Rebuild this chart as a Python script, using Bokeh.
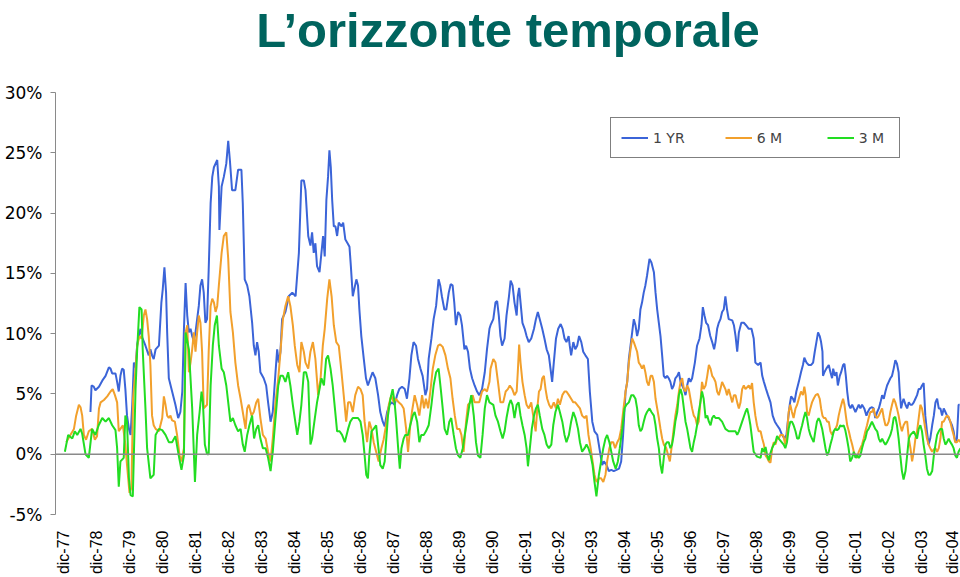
from math import pi
from bokeh.plotting import figure
from bokeh.models import (Range1d, FixedTicker, PrintfTickFormatter, Span,
                          Legend, LegendItem, Title)
from bokeh.embed import file_html
from bokeh.resources import INLINE

title_text = "L\u2019orizzonte temporale"
series_names = ["1 YR", "6 M", "3 M"]
tick_labels = ["dic-77", "dic-78", "dic-79", "dic-80", "dic-81", "dic-82", "dic-83",
               "dic-84", "dic-85", "dic-86", "dic-87", "dic-88", "dic-89", "dic-90",
               "dic-91", "dic-92", "dic-93", "dic-94", "dic-95", "dic-96", "dic-97",
               "dic-98", "dic-99", "dic-00", "dic-01", "dic-02", "dic-03", "dic-04"]
tick_months = [0, 12, 24, 36, 48, 60, 72, 84, 96, 108, 120, 132, 144, 156,
               168, 180, 192, 204, 216, 228, 240, 252, 264, 276, 288, 300, 312, 324]
y_ticks = [-5, 0, 5, 10, 15, 20, 25, 30]

# (months since dic-77, return %)
yr1_points = [
    (9.8, 3.5), (10.2, 5.7), (11.0, 5.6), (11.6, 5.3), (12.9, 5.6), (14.1, 6.1), (15.3, 6.5), (16.5, 7.2),
    (17.1, 7.1), (17.7, 6.7), (18.9, 6.7), (19.5, 6.0), (20.1, 5.2), (20.7, 6.5), (21.3, 7.1), (21.9, 7.0),
    (22.5, 5.4), (23.1, 3.2), (23.8, 2.1), (24.4, 1.6), (25.0, 4.1), (25.6, 7.6), (26.2, 7.2), (26.8, 9.1),
    (27.4, 9.8), (28.0, 10.4), (28.6, 9.7), (29.8, 9.0), (31.0, 8.2), (31.6, 8.7), (32.2, 8.2), (32.8, 7.9),
    (33.5, 8.7), (34.7, 9.0), (35.6, 12.6), (36.1, 13.7), (36.7, 15.5), (37.3, 13.4), (37.7, 10.1), (38.3, 6.3),
    (39.5, 5.2), (40.7, 4.1), (41.7, 3.0), (42.5, 3.5), (43.2, 5.2), (43.8, 10.4), (44.4, 14.2), (45.0, 11.5),
    (45.6, 10.1), (46.2, 10.4), (46.8, 9.8), (47.4, 9.4),
    (48.0, 10.1), (48.6, 11.2), (49.2, 12.3), (49.8, 14.0), (50.4, 14.5), (51.0, 13.4), (51.6, 10.9), (52.2, 11.2),
    (52.8, 15.3), (53.5, 20.8), (54.1, 23.0), (54.7, 23.8), (55.9, 24.4), (56.5, 22.2), (56.7, 18.6), (57.5, 22.2),
    (58.3, 23.0), (59.2, 24.1), (59.9, 26.0), (60.5, 24.4), (61.3, 21.9), (62.5, 21.9), (63.5, 23.6), (64.7, 23.6),
    (65.2, 20.8), (65.9, 14.5), (66.8, 14.0), (67.6, 13.1), (68.6, 10.9), (69.2, 9.0), (69.8, 8.2), (70.4, 9.3),
    (71.0, 8.5), (71.6, 6.8), (72.8, 6.3), (73.7, 5.7), (74.4, 4.3), (75.3, 2.7), (76.1, 3.5), (77.1, 6.8),
    (77.7, 8.7), (78.3, 7.6), (78.9, 8.5), (79.5, 11.2), (80.7, 11.8), (81.9, 13.1), (83.2, 13.4), (84.4, 13.1),
    (85.6, 16.7), (86.5, 22.7), (87.4, 22.7), (88.0, 21.9), (89.0, 18.1), (89.8, 17.3), (90.4, 18.4), (91.0, 16.7),
    (91.6, 17.5), (92.2, 15.6), (93.1, 15.1), (93.8, 16.7), (94.4, 18.1), (95.0, 16.4), (95.6, 21.1), (96.2, 23.0),
    (96.7, 25.2), (97.2, 23.8), (97.7, 21.1), (98.3, 18.9), (98.9, 18.9), (99.5, 18.1), (100.1, 19.2), (101.1, 18.9),
    (101.7, 19.2), (102.5, 17.8), (103.3, 17.5), (104.0, 17.2), (104.5, 15.6), (105.2, 13.1),
    (106.5, 14.5), (107.1, 14.0), (107.6, 12.0), (108.3, 9.8), (109.2, 7.9), (110.0, 6.3), (110.7, 5.7), (111.6, 6.3),
    (112.4, 6.8), (113.4, 6.3), (114.4, 4.9), (115.2, 3.5), (116.1, 2.7), (116.8, 2.3), (117.7, 3.5), (118.5, 4.1),
    (119.5, 4.3), (120.4, 4.1), (121.3, 4.9), (122.1, 5.4), (123.1, 5.6), (124.1, 5.4), (124.9, 4.6), (125.8, 6.3),
    (126.5, 8.2), (127.3, 9.3), (128.2, 9.0), (128.9, 7.9), (129.8, 7.1), (130.6, 6.5), (131.6, 4.9), (132.2, 5.4),
    (132.8, 7.9), (133.8, 9.6), (134.6, 11.2), (135.5, 12.3), (136.4, 14.5), (137.0, 14.0), (137.6, 13.1), (138.5, 12.0),
    (139.2, 12.0), (140.1, 13.4), (140.8, 14.1), (141.5, 14.0), (142.1, 12.6), (142.7, 10.7), (143.5, 11.8), (144.3, 11.5),
    (144.9, 10.7), (145.8, 8.7), (146.4, 9.0), (147.1, 8.5), (147.8, 7.1), (148.6, 6.3), (149.5, 5.7), (150.4, 5.2),
    (151.2, 4.9), (152.2, 5.4), (153.2, 6.8), (154.0, 8.7), (154.9, 10.4),
    (155.3, 10.7), (156.3, 11.2), (157.1, 12.6), (157.7, 12.7), (158.3, 11.5), (158.9, 9.8), (159.5, 9.0), (160.4, 9.6),
    (161.1, 11.5), (162.0, 13.1), (162.6, 14.4), (163.3, 14.0), (164.0, 12.6), (164.8, 11.5), (165.2, 13.1), (165.7, 13.8),
    (166.2, 12.6), (166.9, 10.9), (167.7, 10.4), (168.4, 9.8), (169.2, 9.3), (170.1, 9.6), (171.1, 10.4), (171.8, 11.2),
    (172.5, 11.8), (173.2, 11.2), (174.1, 10.4), (174.9, 9.6), (175.7, 8.7), (176.5, 8.2), (177.1, 7.1), (177.7, 6.0),
    (178.3, 7.6), (179.1, 9.6), (179.9, 10.4), (180.8, 10.8), (181.5, 10.4), (182.2, 9.6), (182.9, 9.3), (183.7, 9.8),
    (184.1, 9.0), (184.6, 8.2), (185.4, 9.3), (186.1, 8.7), (186.8, 9.0), (187.5, 9.8), (188.3, 9.3), (189.0, 8.5),
    (189.8, 8.2), (190.7, 7.9), (191.4, 5.2), (192.3, 2.7), (193.1, 1.9), (194.1, 1.6), (195.1, 0.2), (195.9, -0.9),
    (196.5, -0.6), (197.5, -0.9), (198.3, -1.4), (199.2, -1.3), (200.1, -1.4), (201.1, -1.3), (202.0, -1.2), (202.8, -0.6),
    (203.5, 1.6), (204.4, 5.2), (205.0, 6.0), (205.6, 7.9), (206.2, 9.0), (206.8, 10.1), (207.4, 11.2),
    (208.0, 10.7), (208.6, 9.8), (209.2, 10.4), (209.8, 12.0), (210.4, 12.6), (211.0, 13.4), (211.6, 14.0), (212.2, 14.8),
    (213.1, 16.2), (213.8, 15.9), (214.7, 15.1), (215.3, 13.4), (215.9, 12.0), (216.5, 10.9), (217.1, 9.8), (217.7, 8.2),
    (218.3, 6.5), (218.9, 6.3), (219.5, 6.5), (220.1, 6.3), (220.7, 6.0), (221.3, 5.4), (221.9, 5.7), (222.5, 6.3),
    (223.2, 6.5), (223.8, 6.8), (224.4, 6.0), (225.0, 5.7), (225.6, 5.4), (226.2, 4.9), (226.8, 5.7), (227.4, 6.3),
    (228.0, 6.0), (228.6, 6.3), (229.6, 7.6), (230.4, 9.0), (231.3, 9.6), (232.0, 10.7), (232.5, 12.2), (233.1, 11.5),
    (233.7, 10.9), (234.4, 10.7), (235.2, 9.8), (235.9, 9.3), (236.6, 8.7), (237.1, 9.3), (237.7, 10.4), (238.3, 10.9),
    (238.9, 11.2), (239.5, 11.8), (240.1, 12.0), (240.7, 13.1), (241.3, 12.0), (241.9, 11.2), (243.2, 11.1), (243.8, 10.7),
    (244.4, 9.8), (245.0, 8.5), (245.6, 10.1), (246.5, 10.9), (247.4, 10.9), (248.2, 10.7), (249.2, 10.4), (250.2, 10.4),
    (251.0, 9.6), (251.6, 7.6), (252.6, 7.4), (253.5, 7.6), (254.1, 6.5), (254.7, 6.0), (255.5, 5.4), (256.2, 4.9),
    (257.1, 4.3), (257.9, 3.2), (258.7, 2.7), (259.5, 2.4), (260.4, 2.1),
    (261.3, 1.6), (262.2, 1.3), (262.9, 1.6), (263.4, 2.7), (264.1, 4.1), (264.6, 4.8), (265.3, 4.6), (265.8, 4.3),
    (266.5, 5.2), (267.4, 6.0), (268.2, 6.8), (268.9, 7.4), (269.4, 8.0), (270.2, 7.6), (271.0, 7.4), (271.9, 7.4),
    (272.6, 7.6), (273.2, 8.5), (273.8, 9.3), (274.4, 10.1), (275.0, 9.8), (275.5, 9.3), (276.0, 8.5), (276.2, 6.5),
    (276.7, 6.8), (277.4, 7.1), (278.3, 7.4), (278.9, 6.8), (279.5, 6.3), (279.9, 7.1), (280.5, 6.5), (281.1, 6.8),
    (281.6, 5.7), (282.3, 6.5), (282.8, 6.8), (283.5, 7.4), (284.0, 7.5), (284.5, 6.5), (285.0, 5.2), (285.6, 4.1),
    (286.2, 3.8), (286.8, 4.1), (287.4, 3.8), (288.0, 3.5), (288.6, 3.8), (289.2, 4.1), (289.8, 3.8), (290.4, 4.1),
    (291.2, 3.8), (292.0, 3.2), (292.5, 3.5), (293.2, 3.8), (294.0, 3.9), (294.6, 3.8), (295.2, 3.0), (295.9, 3.5),
    (296.5, 3.8), (297.1, 4.3), (297.7, 4.9), (298.3, 4.6), (298.9, 5.2), (299.5, 5.7), (300.1, 6.0), (300.7, 6.3),
    (301.3, 6.5), (301.9, 7.1), (302.5, 7.8), (303.1, 7.5), (303.7, 6.8), (304.1, 5.2), (304.6, 3.8), (305.1, 4.3),
    (305.5, 4.6), (306.2, 4.1), (306.8, 3.8), (307.4, 4.3), (308.0, 4.1), (308.6, 4.1), (309.2, 4.3), (309.8, 4.6),
    (310.4, 4.9), (311.0, 5.4), (311.6, 5.4), (312.2, 5.7), (312.8, 5.9), (313.1, 4.6), (313.4, 3.2), (314.0, 1.9),
    (314.6, 0.8), (315.2, 1.3), (315.9, 2.4), (316.5, 3.2), (317.1, 4.3), (317.7, 4.6), (318.3, 3.8), (318.9, 3.8),
    (319.5, 3.2), (320.1, 3.8), (320.7, 3.5), (321.3, 3.2), (321.9, 3.0), (322.5, 2.7), (323.1, 2.4), (323.7, 1.9),
    (324.3, 1.0), (324.9, 1.3), (325.5, 4.1), (325.9, 4.1),
]

m6_points = [
    (1.0, 1.0), (2.5, 1.6), (3.8, 2.1), (4.6, 3.2), (5.6, 4.1), (6.2, 3.9), (6.8, 3.2), (7.4, 1.6),
    (8.2, 1.2), (9.2, 1.9), (10.4, 2.1), (11.4, 1.2), (12.2, 1.5), (12.9, 3.8), (13.5, 4.3), (14.7, 4.5),
    (15.9, 4.8), (17.1, 5.2), (17.9, 5.4), (18.7, 4.9), (19.5, 4.3), (20.1, 1.9), (20.7, 2.1), (21.6, 2.4),
    (22.5, 0.8), (23.1, -0.9), (24.0, -3.2), (24.7, -2.8), (25.3, 4.6), (26.2, 7.1), (26.8, 9.0), (27.6, 9.8),
    (28.4, 9.6), (29.2, 11.5), (29.8, 12.0), (30.4, 11.2), (31.0, 9.8), (31.6, 7.4), (32.2, 3.2), (32.8, 2.4),
    (33.5, 2.1), (34.7, 1.9), (35.9, 3.0), (36.5, 4.8), (37.1, 4.1), (37.7, 3.2), (38.3, 3.0), (38.9, 3.2),
    (39.5, 2.8), (40.5, 2.7), (41.3, 1.6), (42.2, -0.1), (42.9, -0.6), (43.8, 0.5), (44.4, 10.1), (45.0, 10.7),
    (45.6, 6.8), (46.2, 7.6), (46.8, 8.7), (47.4, 10.1),
    (48.0, 8.5), (48.6, 10.1), (49.2, 11.5), (49.8, 10.9), (50.4, 8.5), (51.0, 3.8), (52.2, 4.1), (52.8, 8.5),
    (53.5, 12.3), (54.1, 12.9), (54.7, 12.6), (55.3, 11.8), (55.9, 12.3), (56.5, 14.0), (57.5, 16.7), (58.3, 18.1),
    (59.2, 18.4), (59.9, 16.2), (60.7, 11.8), (61.6, 10.1), (62.5, 7.6), (63.5, 5.7), (64.4, 4.6), (65.2, 3.5),
    (66.2, 2.1), (66.8, 3.8), (67.4, 4.1), (68.4, 3.2), (69.2, 3.5), (70.1, 4.3), (70.8, 4.6), (71.6, 3.0),
    (72.5, 1.6), (73.5, 1.3), (74.4, 0.2), (75.3, -0.6), (76.1, 1.3), (77.1, 4.3), (78.1, 6.3), (78.9, 8.5),
    (79.8, 11.2), (80.7, 12.3), (81.7, 13.1), (82.5, 12.3), (83.4, 10.7), (84.1, 9.0), (85.0, 7.4), (85.8, 6.8),
    (86.5, 9.3), (87.4, 8.5), (88.0, 7.6), (89.0, 7.1), (89.8, 8.5), (90.7, 9.3), (91.6, 7.9), (92.6, 4.9),
    (93.5, 6.3), (94.3, 9.0), (95.0, 10.4), (95.9, 12.9), (96.7, 14.5), (97.5, 13.1), (98.3, 10.7), (99.2, 9.3),
    (100.1, 9.0), (101.1, 6.8), (101.9, 4.9), (102.8, 2.7),
    (103.5, 4.3), (104.3, 4.3), (105.2, 3.5), (106.1, 4.9), (107.1, 5.6), (108.0, 5.4), (108.8, 4.9), (109.5, 2.7),
    (110.4, 1.0), (111.2, 2.7), (112.0, 2.1), (112.8, 1.0), (113.7, 0.2), (114.6, -0.6), (115.6, 0.5), (116.4, 1.2),
    (117.3, 2.4), (118.3, 4.1), (119.2, 4.9), (120.1, 4.3), (120.9, 4.6), (121.9, 4.3), (122.9, 4.1), (123.7, 3.8),
    (124.6, 2.1), (125.3, 0.2), (126.1, 2.4), (126.7, 3.5), (127.7, 4.9), (128.6, 4.1), (129.4, 3.2), (130.4, 4.9),
    (131.1, 3.8), (131.8, 4.6), (132.6, 3.8), (133.4, 5.2), (134.3, 7.1), (135.2, 8.2), (136.2, 9.0), (137.0, 9.1),
    (137.9, 8.9), (138.9, 8.2), (139.8, 7.1), (140.7, 6.3), (141.5, 4.6), (142.3, 3.2), (143.1, 2.1), (144.0, 2.1),
    (144.7, 1.6), (145.5, 0.2), (146.4, 2.7), (147.1, 4.1), (148.0, 4.3), (148.8, 4.9), (149.5, 4.3), (150.4, 4.3),
    (151.2, 4.3), (152.2, 5.2), (153.2, 5.4), (154.0, 5.2), (154.9, 6.0),
    (155.3, 7.1), (156.3, 7.9), (157.1, 7.6), (158.0, 6.0), (158.9, 4.3), (159.9, 4.3), (160.8, 5.2), (161.6, 5.4),
    (162.3, 5.7), (163.2, 5.4), (164.0, 4.9), (164.8, 5.2), (165.2, 6.8), (165.7, 9.1), (166.2, 7.6), (166.9, 6.0),
    (167.7, 4.9), (168.4, 4.1), (169.2, 3.8), (170.1, 4.3), (170.8, 3.2), (171.7, 1.9), (172.3, 3.8), (172.9, 5.2),
    (173.5, 5.4), (174.1, 6.3), (174.7, 6.5), (175.3, 5.4), (175.9, 4.6), (176.6, 4.1), (177.4, 3.8), (178.3, 4.3),
    (179.1, 3.8), (179.8, 4.6), (180.5, 4.1), (181.4, 4.9), (182.2, 5.2), (182.9, 5.2), (183.8, 4.9), (184.6, 4.6),
    (185.4, 4.3), (186.1, 4.3), (186.8, 4.1), (187.8, 3.8), (188.6, 3.2), (189.5, 3.0), (190.2, 3.2), (190.9, 1.6),
    (191.7, 0.5), (192.4, -0.6), (193.1, -1.7), (193.8, -2.3), (194.7, -2.0), (195.5, -2.0), (196.3, -2.3), (197.1, -1.7),
    (197.7, -0.6), (198.5, 0.5), (199.2, 1.0), (199.9, 1.0), (200.6, 0.5), (201.4, 1.0), (202.1, 1.3), (202.8, 2.1),
    (203.5, 3.5), (204.4, 5.2), (205.0, 6.0), (205.6, 7.6), (206.2, 8.7), (206.8, 9.6), (207.4, 9.3),
    (208.6, 8.5), (209.2, 7.6), (209.8, 7.4), (210.4, 7.1), (211.0, 7.4), (211.6, 6.8), (212.2, 6.0), (212.8, 5.7),
    (213.5, 6.5), (214.1, 6.5), (214.7, 6.0), (215.3, 4.6), (215.9, 3.8), (216.5, 3.0), (217.1, 2.1), (217.7, 1.3),
    (218.3, 0.8), (219.2, 0.5), (219.9, -0.1), (220.5, -0.6), (221.1, 0.5), (221.9, 2.1), (222.5, 3.2), (223.2, 4.1),
    (223.8, 5.2), (224.4, 6.0), (225.0, 6.3), (225.6, 5.4), (226.2, 5.2), (226.8, 5.7), (227.4, 5.4), (228.0, 4.6),
    (228.6, 3.8), (229.2, 3.2), (229.8, 3.0), (230.4, 2.4), (231.0, 2.7), (231.6, 4.3), (232.2, 6.0), (232.8, 5.4),
    (233.5, 5.7), (234.1, 6.5), (234.7, 7.4), (235.3, 7.1), (235.9, 6.5), (236.5, 6.3), (237.1, 6.0), (237.7, 5.2),
    (238.3, 4.9), (238.9, 5.4), (239.5, 6.0), (240.1, 5.7), (240.7, 5.4), (241.3, 4.9), (241.9, 5.4), (242.5, 4.9),
    (243.2, 4.3), (243.8, 4.9), (244.4, 4.9), (245.0, 4.3), (245.6, 3.8), (246.2, 4.3), (246.8, 5.4), (247.4, 5.7),
    (248.0, 5.4), (249.2, 5.7), (249.8, 5.4), (250.4, 5.9), (251.0, 4.3), (251.6, 3.2), (252.2, 2.4), (252.8, 1.9),
    (253.5, 1.9), (254.1, 1.3), (254.7, 0.8), (255.3, -0.1), (255.9, -0.3), (256.5, -0.6), (257.1, -0.7), (257.7, 0.5),
    (258.3, 1.0), (258.9, 0.8), (259.5, 1.3), (260.1, 1.3),
    (260.7, 1.6), (261.7, 1.6), (262.5, 0.8), (263.1, 1.6), (263.7, 3.5), (264.3, 4.1), (264.9, 3.5), (265.5, 3.0),
    (266.2, 3.8), (266.8, 4.1), (267.4, 4.6), (268.2, 5.2), (268.9, 4.9), (269.4, 5.6), (269.9, 4.9), (270.4, 3.5),
    (271.0, 3.2), (271.6, 3.8), (272.2, 4.3), (272.8, 4.6), (273.5, 4.9), (274.3, 5.0), (275.0, 4.6), (275.5, 3.8),
    (276.0, 3.2), (276.5, 3.0), (277.1, 3.0), (277.7, 2.7), (278.3, 2.7), (278.9, 1.9), (279.5, 1.6), (280.1, 1.9),
    (280.7, 2.1), (281.3, 2.4), (281.9, 3.2), (282.5, 3.8), (283.1, 4.3), (283.5, 4.6), (284.0, 4.1), (284.5, 3.2),
    (285.0, 2.4), (285.6, 1.9), (286.2, 1.3), (286.8, 0.8), (287.4, 0.2), (288.0, -0.1), (288.6, -0.3), (289.2, 0.2),
    (289.8, 0.5), (290.4, 0.8), (291.0, 1.3), (291.6, 1.9), (292.2, 2.4), (292.8, 3.0), (293.4, 3.5), (294.0, 3.5),
    (294.6, 3.8), (295.2, 3.2), (295.9, 3.0), (296.5, 3.2), (297.1, 3.5), (297.7, 3.8), (298.3, 3.0), (298.9, 2.4),
    (299.5, 2.4), (300.1, 2.7), (300.7, 3.5), (301.3, 4.1), (301.9, 4.6), (302.5, 4.3), (303.1, 3.8), (303.7, 3.2),
    (304.3, 2.4), (304.9, 1.9), (305.5, 2.4), (306.2, 2.7), (306.8, 2.7), (307.4, 1.3), (308.0, 0.5), (308.6, -0.6),
    (309.2, 0.2), (309.8, 1.3), (310.4, 1.9), (311.0, 3.0), (311.6, 4.1), (312.2, 3.8), (312.8, 3.0), (313.4, 2.1),
    (314.0, 1.3), (314.6, 0.8), (315.2, 0.5), (315.9, 0.2), (316.5, 0.4), (317.1, 0.5), (317.7, 0.2), (318.3, 0.5),
    (318.9, 1.3), (319.5, 2.7), (320.1, 2.7), (320.7, 3.0), (321.3, 3.2), (321.9, 3.1), (322.5, 2.7), (323.1, 2.1),
    (323.7, 1.6), (324.3, 1.0), (324.9, 1.0), (325.5, 1.2), (326.2, 1.0),
]

m3_points = [
    (0.5, 0.2), (1.7, 1.6), (3.2, 1.3), (4.1, 1.9), (5.0, 1.6), (6.2, 2.1), (6.8, 1.7), (8.0, 0.0),
    (9.2, -0.3), (10.4, 2.1), (11.6, 1.6), (12.8, 2.4), (14.1, 3.0), (15.3, 2.7), (16.5, 3.0), (17.7, 2.4),
    (18.9, 2.0), (19.5, 0.5), (20.1, -2.7), (20.7, -0.6), (21.9, -0.3), (22.5, 3.2), (23.1, 2.7), (23.8, -2.0),
    (24.4, -3.4), (25.2, -3.5), (26.2, 5.4), (26.8, 8.7), (27.6, 12.2), (28.4, 12.0), (28.8, 8.7), (29.8, 3.8),
    (30.4, 0.5), (31.6, -2.0), (32.8, -1.7), (33.5, 1.6), (34.7, 2.1), (35.9, 2.0), (37.1, 1.6), (38.3, 1.0),
    (39.5, 1.0), (40.7, 1.5), (41.9, -0.1), (42.9, -1.3), (43.8, -0.1), (44.4, 10.1), (45.6, 8.7), (46.8, 3.8),
    (47.8, -2.3),
    (48.6, 1.6), (49.5, 3.5), (50.2, 5.2), (50.7, 4.3), (51.4, 0.8), (52.2, 0.0), (52.8, 0.0), (53.5, 5.7),
    (54.3, 9.0), (55.0, 10.7), (55.8, 11.5), (56.5, 9.0), (57.5, 7.1), (58.3, 6.8), (59.2, 5.7), (59.9, 4.3),
    (60.7, 2.7), (61.6, 3.0), (62.5, 2.4), (63.5, 1.9), (64.4, 2.1), (65.2, 0.8), (65.9, 0.2), (66.8, 1.6),
    (67.6, 2.4), (68.6, 3.2), (69.3, 1.3), (70.1, 2.1), (70.8, 2.4), (71.6, 1.3), (72.5, 0.5), (73.5, 0.5),
    (74.4, -0.3), (75.3, -1.4), (76.1, 0.2), (77.1, 3.0), (78.1, 5.7), (78.9, 6.5), (79.8, 6.5), (80.7, 6.0),
    (81.7, 6.8), (82.5, 5.7), (83.4, 4.1), (84.1, 3.0), (85.0, 1.6), (85.8, 2.7), (86.5, 4.1), (87.4, 6.8),
    (88.2, 6.8), (89.0, 6.0), (89.8, 0.8), (90.4, 1.3), (91.4, 3.0), (92.2, 4.3), (93.1, 5.4), (93.8, 6.3),
    (94.7, 5.7), (95.5, 7.9), (96.2, 8.2), (97.1, 7.1), (97.9, 5.7), (98.7, 3.8), (99.5, 1.9), (100.4, 1.9),
    (101.3, 1.6), (102.3, 1.0),
    (103.5, 2.1), (104.3, 2.7), (105.2, 3.0), (106.1, 3.0), (107.1, 3.0), (108.0, 2.7), (108.8, 1.6), (109.5, -0.1),
    (110.1, -1.7), (110.7, -2.0), (111.2, -0.1), (112.0, 1.9), (112.8, 2.1), (113.7, 2.4), (114.4, 0.8), (115.2, -0.9),
    (116.1, -1.2), (116.8, -0.6), (117.3, 1.0), (118.0, 3.2), (118.9, 4.6), (119.7, 5.4), (120.4, 4.3), (120.9, 3.0),
    (121.7, 0.5), (122.3, -1.2), (122.9, 0.5), (123.7, 1.3), (124.3, 1.6), (125.3, 1.6), (126.1, 2.4), (127.0, 3.2),
    (127.7, 3.5), (128.6, 2.7), (129.4, 1.0), (130.1, 1.6), (131.0, 1.6), (131.8, 1.9), (132.8, 2.4), (133.8, 4.1),
    (134.6, 5.7), (135.5, 6.8), (136.4, 7.1), (137.2, 5.4), (137.9, 3.8), (138.6, 2.1), (139.5, 1.6), (140.3, 2.7),
    (141.0, 3.0), (141.9, 1.6), (142.7, 0.5), (143.5, -0.1), (144.3, -0.3), (145.2, 0.5), (145.9, 1.6), (146.7, 2.7),
    (147.6, 4.1), (148.3, 4.9), (149.2, 3.2), (150.0, 1.0), (150.7, -0.1), (151.6, -0.3), (152.4, 1.6), (153.2, 3.8),
    (154.0, 4.9), (154.9, 4.3),
    (156.3, 4.1), (157.1, 3.2), (158.0, 2.7), (158.9, 1.9), (159.7, 1.3), (160.4, 1.9), (161.1, 3.0), (162.0, 4.1),
    (162.6, 4.5), (163.3, 4.1), (164.0, 3.0), (164.8, 4.1), (165.5, 4.3), (166.2, 3.2), (166.9, 2.4), (167.7, 1.6),
    (168.4, 0.5), (168.9, -1.0), (169.6, 0.5), (170.3, 2.1), (171.1, 3.2), (171.8, 3.8), (172.5, 4.1), (173.2, 3.2),
    (174.1, 2.1), (174.9, 1.6), (175.7, 0.8), (176.5, 0.5), (177.4, 0.8), (178.1, 2.4), (178.9, 3.5), (179.8, 4.1),
    (180.5, 3.5), (181.4, 2.7), (182.2, 1.6), (182.9, 1.0), (183.8, 1.6), (184.6, 2.7), (185.4, 3.5), (186.2, 3.0),
    (187.1, 2.1), (187.8, 1.0), (188.6, 0.2), (189.5, 0.5), (190.2, 0.8), (190.9, 0.5), (191.7, -0.1), (192.4, -0.9),
    (193.1, -2.3), (193.8, -3.5), (194.7, -1.7), (195.5, -0.6), (196.3, 0.5), (197.1, 1.3), (197.7, 1.6), (198.5, 1.0),
    (199.2, 0.2), (199.9, -0.6), (200.8, -1.2), (201.6, -0.6), (202.3, 0.5), (203.2, 2.1), (204.0, 3.8), (204.7, 4.1),
    (205.6, 4.3), (206.5, 4.9), (207.2, 4.9),
    (208.0, 4.6), (208.6, 3.8), (209.2, 2.4), (209.8, 1.9), (210.4, 2.1), (211.0, 2.7), (211.6, 3.2), (212.2, 3.5),
    (213.1, 3.8), (213.8, 3.5), (214.7, 3.2), (215.3, 2.4), (215.9, 1.3), (216.5, 0.5), (217.1, -0.9), (217.7, -1.6),
    (218.3, -0.3), (218.9, 0.8), (219.5, 1.0), (220.1, 1.0), (220.7, 0.5), (221.3, 0.8), (221.9, 1.6), (222.5, 2.7),
    (223.2, 3.5), (223.8, 4.9), (224.4, 5.4), (225.0, 4.9), (225.6, 3.8), (226.2, 2.7), (226.8, 2.1), (227.4, 1.3),
    (228.0, 0.5), (228.6, 0.2), (229.2, 1.0), (229.8, 1.6), (230.4, 2.4), (231.0, 3.5), (231.6, 4.3), (232.2, 5.2),
    (232.8, 4.6), (233.5, 3.0), (234.1, 3.2), (234.7, 2.7), (235.3, 2.4), (235.9, 3.0), (236.5, 3.2), (237.1, 3.0),
    (238.3, 3.0), (239.5, 2.7), (240.7, 2.1), (241.9, 1.9), (243.2, 1.9), (244.4, 1.9), (245.0, 1.6), (245.6, 1.9),
    (246.8, 2.7), (248.0, 3.5), (248.6, 3.8), (249.2, 3.2), (249.8, 2.4), (250.4, 1.3), (251.0, 0.2), (252.2, -0.2),
    (253.5, -0.3), (254.1, 0.5), (254.7, 0.2), (255.3, 0.6), (255.9, -0.1), (256.5, -0.5), (257.1, 0.1), (257.7, 0.5),
    (258.3, 0.8), (258.9, 1.0), (259.5, 1.5), (260.1, 1.3),
    (261.9, 0.8), (262.5, 0.5), (263.1, 1.0), (263.7, 2.1), (264.3, 2.7), (264.9, 2.7), (265.5, 2.4), (266.2, 1.9),
    (266.8, 1.3), (267.4, 1.3), (268.0, 1.9), (268.6, 2.4), (269.2, 3.0), (269.8, 3.5), (270.4, 3.0), (271.0, 2.1),
    (271.6, 1.6), (272.2, 1.3), (272.8, 1.0), (273.4, 1.9), (274.0, 2.7), (274.6, 3.0), (275.2, 2.7), (275.9, 2.1),
    (276.5, 1.3), (277.1, 0.5), (277.7, -0.1), (278.3, 0.2), (278.9, 0.8), (279.5, 1.3), (280.1, 1.9), (280.7, 2.1),
    (281.3, 2.0), (281.9, 2.1), (282.5, 2.4), (283.1, 2.3), (283.7, 2.4), (284.3, 2.0), (284.9, 1.3), (285.5, 0.5),
    (286.1, -0.6), (286.8, -0.3), (287.4, 0.2), (288.0, -0.3), (288.6, -0.1), (289.2, -0.3), (289.8, -0.1), (290.4, 0.5),
    (291.0, 1.0), (291.6, 1.3), (292.2, 1.9), (292.8, 2.1), (293.4, 2.4), (294.0, 2.7), (294.6, 2.4), (295.2, 2.1),
    (295.9, 1.9), (296.5, 1.3), (297.1, 1.0), (297.7, 1.3), (298.3, 1.0), (298.9, 0.8), (299.5, 1.0), (300.1, 1.3),
    (300.7, 1.6), (301.3, 2.1), (301.9, 3.0), (302.5, 3.1), (303.1, 2.4), (303.7, 1.3), (304.3, -0.1), (304.9, -1.4),
    (305.5, -2.1), (306.2, -1.4), (306.8, -0.1), (307.4, 1.3), (308.0, 1.6), (309.2, 1.9), (310.4, 1.3), (311.0, 2.1),
    (311.6, 2.4), (312.2, 1.9), (312.8, 0.8), (313.4, -0.1), (314.0, -1.2), (314.6, -1.7), (315.2, -1.7), (315.9, -1.4),
    (316.5, -0.1), (317.1, 0.8), (317.7, 1.6), (318.3, 1.9), (318.9, 2.1), (319.5, 2.1), (320.1, 1.3), (320.7, 0.8),
    (321.3, 1.0), (321.9, 1.3), (322.5, 1.0), (323.1, 0.8), (323.7, 0.5), (324.3, -0.1), (324.9, -0.3), (325.5, 0.2),
    (326.2, 0.5),
]

series_points = [yr1_points, m6_points, m3_points]
series_colors = ["#3b64d8", "#f2a02c", "#22dd22"]

p = figure(width=960, height=577, output_backend="svg", toolbar_location=None,
           x_range=Range1d(-2.91, 326.2), y_range=Range1d(-5, 30),
           min_border_left=55, min_border_right=0, min_border_top=92, min_border_bottom=60)
p.background_fill_color = "white"
p.border_fill_color = "white"
p.outline_line_color = None
p.xgrid.visible = False
p.ygrid.visible = False

# spacer between frame and title (closest to the frame), then the title itself
p.add_layout(Title(text=" ", text_font_size="10px", standoff=21), "above")
p.add_layout(Title(text=title_text, text_font="Liberation Sans", text_font_style="bold",
                   text_font_size="49px", text_color="#00645e", align="center",
                   vertical_align="top", standoff=0), "above")

# zero (category axis) line
p.add_layout(Span(location=0, dimension="width", line_color="#8a8a8a", line_width=1.5))

renderers = []
for pts, color in zip(series_points, series_colors):
    xs = [a for a, b in pts]
    ys = [b for a, b in pts]
    r = p.line(xs, ys, line_color=color, line_width=2)
    renderers.append(r)

ya = p.yaxis[0]
ya.ticker = FixedTicker(ticks=y_ticks)
ya.formatter = PrintfTickFormatter(format="%d%%")
ya.axis_line_color = "#8a8a8a"
ya.major_tick_line_color = "#8a8a8a"
ya.major_tick_out = 5
ya.major_tick_in = 0
ya.minor_tick_line_color = None
ya.major_label_text_font = "DejaVu Sans"
ya.major_label_text_font_size = "17px"
ya.major_label_text_color = "black"
ya.major_label_standoff = 8

xa = p.xaxis[0]
xa.ticker = FixedTicker(ticks=tick_months)
xa.major_label_overrides = {m: lab for m, lab in zip(tick_months, tick_labels)}
xa.major_label_orientation = pi / 2
xa.axis_line_color = None
xa.major_tick_line_color = None
xa.minor_tick_line_color = None
xa.major_label_text_font = "Liberation Sans"
xa.major_label_text_font_size = "16px"
xa.major_label_text_color = "black"
xa.major_label_standoff = 10

legend = Legend(items=[LegendItem(label=n, renderers=[r]) for n, r in zip(series_names, renderers)],
                orientation="horizontal", location=(555, 356))
legend.label_text_font = "DejaVu Sans"
legend.label_text_font_size = "14px"
legend.border_line_color = "black"
legend.border_line_width = 1
legend.background_fill_color = "white"
legend.background_fill_alpha = 1
legend.glyph_width = 27
legend.glyph_height = 19
legend.label_standoff = 5
legend.label_width = 30
legend.spacing = 40
legend.padding = 10
legend.margin = 0
p.add_layout(legend)

open("out.html", "w").write(file_html(p, INLINE))
